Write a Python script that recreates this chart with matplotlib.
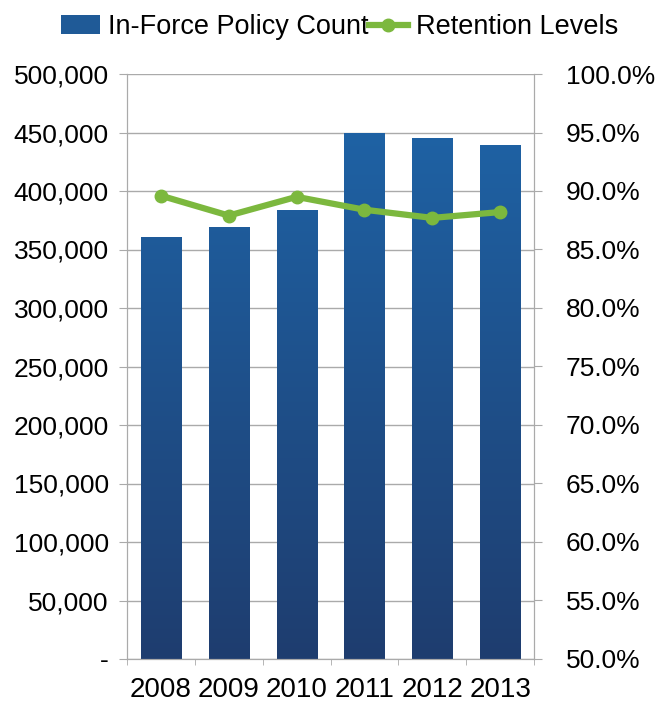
import matplotlib
matplotlib.use("Agg")
import matplotlib.pyplot as plt
import numpy as np
from matplotlib.colors import LinearSegmentedColormap
from matplotlib.ticker import FuncFormatter

plt.rcParams['font.family'] = ['Liberation Sans', 'DejaVu Sans']

years = ["2008", "2009", "2010", "2011", "2012", "2013"]
policy_count = [360500, 369000, 384000, 449500, 445500, 439000]
retention = [89.6, 87.9, 89.5, 88.4, 87.7, 88.2]

fig = plt.figure(figsize=(6.63, 7.04), dpi=100)
ax = fig.add_axes([127/663, 1-659/704, (534-127)/663, (659-74)/704])
ax2 = ax.twinx()

x = np.arange(len(years))
bars = ax.bar(x, policy_count, width=0.59, color="#1f5a97", zorder=2)

# vertical gradient in each bar, lighter at the top
cmap = LinearSegmentedColormap.from_list("g", ["#1e3d6f", "#1f66aa"])
grad = np.linspace(0, 1, 256).reshape(-1, 1)
for b in bars:
    x0, w = b.get_x(), b.get_width()
    im = ax.imshow(grad, cmap=cmap, origin="lower", aspect="auto",
                   extent=[x0, x0 + w, 0, 500000], zorder=2)
    im.set_clip_path(b)

ax.set_xlim(-0.5, 5.5)
ax.set_ylim(0, 500000)
ax.set_yticks(np.arange(0, 500001, 50000))
ax.yaxis.set_major_formatter(FuncFormatter(lambda v, p: "-" if v == 0 else f"{int(v):,}"))
ax.set_xticks(x)
ax.set_xticklabels(years)
ax.set_xticks(np.arange(-0.5, 6, 1), minor=True)
ax.tick_params(axis="x", which="major", length=0, labelsize=20, pad=13)
ax.tick_params(axis="x", which="minor", length=4.5, color="#aaaaaa")
ax.tick_params(axis="y", length=6, color="#aaaaaa", labelsize=19, pad=7)
ax.grid(axis="y", color="#aaaaaa", linewidth=1, zorder=0)
ax.set_axisbelow(True)

ax2.plot(x, retention, color="#7cb83e", linewidth=4.5, marker="o",
         markersize=9, zorder=3)
ax2.set_ylim(50, 100)
ax2.set_yticks(np.arange(50, 100.1, 5))
ax2.yaxis.set_major_formatter(FuncFormatter(lambda v, p: f"{v:.1f}%"))
ax2.tick_params(axis="y", length=6, color="#aaaaaa", labelsize=19, pad=17)

for a in (ax, ax2):
    a.spines["top"].set_visible(False)
    for s in ("left", "right", "bottom"):
        a.spines[s].set_color("#aaaaaa")

handles = [bars, ax2.lines[0]]
fig.legend(handles, ["In-Force Policy Count", "Retention Levels"],
           loc="center", bbox_to_anchor=(339.5/663, 1-27/704), ncol=2,
           frameon=False, fontsize=19.5, handlelength=1.45, handletextpad=0.3,
           columnspacing=0.0, borderaxespad=0, borderpad=0)

fig.savefig("out.png", dpi=100)
